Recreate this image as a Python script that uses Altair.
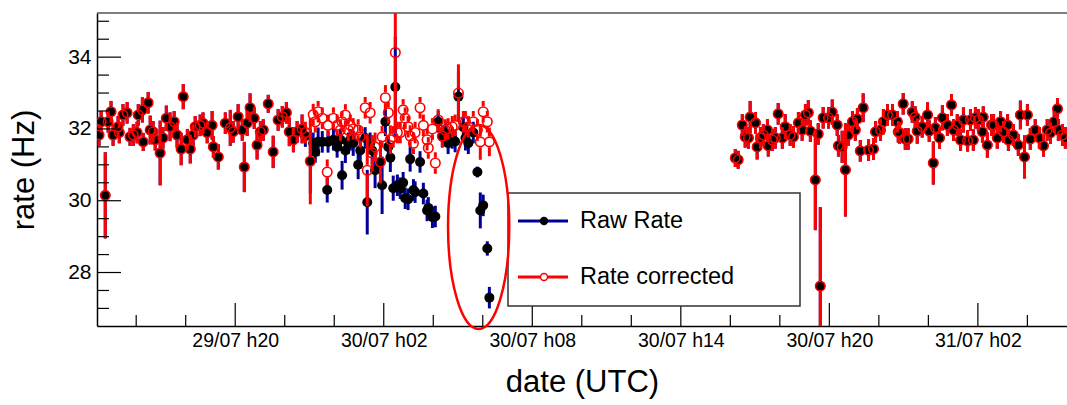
import altair as alt
import pandas as pd
from datetime import datetime, timezone

YEAR = 2018
FONT = "Liberation Sans"

# ---------------- data ----------------
# 29/07 afternoon/evening: raw and corrected rates coincide
seg1_time = ["29/07 14:30", "29/07 14:35", "29/07 14:45", "29/07 14:52", "29/07 14:59", "29/07 15:04",
             "29/07 15:16", "29/07 15:19", "29/07 15:28", "29/07 15:38", "29/07 15:45", "29/07 15:53",
             "29/07 16:02", "29/07 16:05", "29/07 16:15", "29/07 16:17", "29/07 16:29", "29/07 16:34",
             "29/07 16:41", "29/07 16:46", "29/07 16:58", "29/07 17:05", "29/07 17:13", "29/07 17:22",
             "29/07 17:32", "29/07 17:39", "29/07 17:49", "29/07 17:54", "29/07 18:04", "29/07 18:11",
             "29/07 18:18", "29/07 18:23", "29/07 18:35", "29/07 18:42", "29/07 18:52", "29/07 19:04",
             "29/07 19:07", "29/07 19:19", "29/07 19:36", "29/07 19:48", "29/07 19:55", "29/07 20:07",
             "29/07 20:17", "29/07 20:22", "29/07 20:29", "29/07 20:36", "29/07 20:46", "29/07 20:53",
             "29/07 21:01", "29/07 21:08", "29/07 21:20", "29/07 21:32", "29/07 21:44", "29/07 21:54",
             "29/07 22:04", "29/07 22:11", "29/07 22:21", "29/07 22:30", "29/07 22:42"]
seg1_rate = [31.83, 32.20, 30.15, 32.20, 32.48, 31.83, 32.06, 31.90, 32.39, 32.45, 31.78, 31.83,
             31.90, 32.39, 32.53, 31.64, 32.73, 31.97, 31.92, 31.70, 31.33, 31.75, 32.30, 32.06,
             32.20, 31.83, 31.44, 32.90, 31.70, 31.44, 31.83, 32.06, 32.10, 32.16, 31.90, 32.10,
             31.50, 31.22, 32.16, 32.03, 31.92, 32.34, 31.97, 30.94, 32.16, 32.59, 32.30, 31.55,
             31.92, 31.97, 32.70, 31.36, 32.25, 32.34, 32.45, 31.92, 31.70, 31.92, 32.00]
seg1_err = [0.30, 0.30, 1.20, 0.30, 0.30, 0.30, 0.30, 0.30, 0.30, 0.30, 0.25, 0.30,
            0.30, 0.30, 0.35, 0.25, 0.30, 0.40, 0.30, 0.30, 0.90, 0.30, 0.35, 0.40,
            0.30, 0.35, 0.45, 0.35, 0.30, 0.40, 0.30, 0.30, 0.30, 0.30, 0.30, 0.40,
            0.30, 0.35, 0.30, 0.50, 0.30, 0.35, 0.30, 0.70, 0.35, 0.40, 0.30, 0.40,
            0.30, 0.30, 0.25, 0.45, 0.30, 0.30, 0.30, 0.40, 0.35, 0.30, 0.40]

# 29/07 22:50 - 30/07 06:16: raw and corrected rates differ
div_time = ["29/07 22:50", "29/07 23:02", "29/07 23:09", "29/07 23:14", "29/07 23:21", "29/07 23:31",
            "29/07 23:43", "29/07 23:45", "29/07 23:58", "30/07 00:07", "30/07 00:15", "30/07 00:19",
            "30/07 00:27", "30/07 00:34", "30/07 00:39", "30/07 00:46", "30/07 00:58", "30/07 01:03",
            "30/07 01:15", "30/07 01:20", "30/07 01:27", "30/07 01:32", "30/07 01:39", "30/07 01:52",
            "30/07 01:56", "30/07 02:04", "30/07 02:11", "30/07 02:16", "30/07 02:23", "30/07 02:28",
            "30/07 02:33", "30/07 02:40", "30/07 02:47", "30/07 02:52", "30/07 02:59", "30/07 03:04",
            "30/07 03:12", "30/07 03:16", "30/07 03:28", "30/07 03:36", "30/07 03:45", "30/07 03:48",
            "30/07 03:58", "30/07 04:05", "30/07 04:12", "30/07 04:22", "30/07 04:29", "30/07 04:36",
            "30/07 04:46", "30/07 04:53", "30/07 05:01", "30/07 05:13", "30/07 05:18", "30/07 05:25",
            "30/07 05:37", "30/07 05:47", "30/07 05:54", "30/07 06:01", "30/07 06:11", "30/07 06:16"]
div_raw = [31.80, 31.10, 31.60, 31.36, 31.64, 31.64, 30.30, 31.64, 31.70, 31.50, 31.70, 30.71,
           31.40, 31.60, 31.70, 31.60, 31.00, 31.40, 31.75, 29.96, 31.60, 31.40, 30.85, 31.08,
           30.43, 32.20, 31.50, 31.20, 30.35, 33.17, 30.43, 30.35, 30.50, 30.07, 30.04, 31.16,
           30.30, 30.24, 31.08, 30.20, 29.73, 29.80, 29.54, 29.56, 32.20, 31.78, 31.90, 31.60,
           31.75, 31.65, 32.90, 32.05, 31.75, 31.60, 31.90, 30.80, 29.73, 29.87, 28.67, 27.30]
div_raw_err = [0.30, 0.90, 0.30, 0.30, 0.40, 0.30, 0.35, 0.30, 0.30, 0.30, 0.30, 0.40,
               0.35, 0.30, 0.30, 0.35, 0.40, 0.35, 0.30, 0.90, 0.30, 0.40, 0.50, 0.50,
               0.80, 0.40, 0.30, 0.40, 0.35, 1.40, 0.30, 0.30, 0.30, 0.30, 0.30, 0.35,
               0.30, 0.30, 0.30, 0.30, 0.30, 0.30, 0.30, 0.30, 0.30, 0.30, 0.30, 0.30,
               0.30, 0.30, 0.70, 0.30, 0.35, 0.30, 0.30, 0.15, 0.50, 0.30, 0.20, 0.30]
div_corr = [31.90, 31.10, 32.40, 32.20, 32.48, 32.30, 30.80, 32.10, 32.30, 32.10, 31.97, 32.20,
            32.39, 31.97, 32.10, 32.00, 31.97, 31.78, 32.59, 30.85, 32.45, 31.33, 31.50, 31.08,
            31.78, 32.87, 32.45, 31.70, 31.78, 34.13, 31.90, 31.90, 32.53, 32.30, 32.06, 31.80,
            31.60, 31.90, 32.59, 32.10, 31.70, 31.47, 32.00, 31.05, 32.25, 31.80, 31.97, 32.00,
            32.06, 32.10, 33.00, 32.20, 32.20, 32.06, 32.20, 31.97, 31.64, 32.48, 32.20, 31.64]
div_corr_err = [0.30, 1.20, 0.30, 0.30, 0.30, 0.30, 0.35, 0.30, 0.30, 0.30, 0.30, 0.30,
                0.30, 0.30, 0.30, 0.30, 0.30, 0.30, 0.30, 1.00, 0.30, 0.50, 0.40, 0.60,
                0.30, 0.35, 0.30, 0.40, 0.30, 2.10, 0.30, 0.30, 0.30, 0.30, 0.30, 0.30,
                0.30, 0.30, 0.30, 0.30, 0.30, 0.30, 0.30, 0.30, 0.30, 0.30, 0.30, 0.30,
                0.30, 0.30, 0.80, 0.30, 0.30, 0.30, 0.30, 0.30, 0.50, 0.30, 0.30, 0.40]

# 30/07 16:12 onwards: raw and corrected rates coincide again
seg2_time = ["30/07 16:12", "30/07 16:19", "30/07 16:29", "30/07 16:36", "30/07 16:44", "30/07 16:48",
             "30/07 17:01", "30/07 17:05", "30/07 17:13", "30/07 17:20", "30/07 17:30", "30/07 17:32",
             "30/07 17:42", "30/07 17:49", "30/07 17:56", "30/07 18:06", "30/07 18:13", "30/07 18:25",
             "30/07 18:33", "30/07 18:45", "30/07 18:54", "30/07 19:02", "30/07 19:09", "30/07 19:14",
             "30/07 19:26", "30/07 19:33", "30/07 19:38", "30/07 19:45", "30/07 19:58", "30/07 20:07",
             "30/07 20:19", "30/07 20:22", "30/07 20:31", "30/07 20:39", "30/07 20:46", "30/07 20:56",
             "30/07 21:03", "30/07 21:08", "30/07 21:15", "30/07 21:22", "30/07 21:35", "30/07 21:47",
             "30/07 21:52", "30/07 22:04", "30/07 22:11", "30/07 22:21", "30/07 22:33", "30/07 22:45",
             "30/07 22:47", "30/07 22:50", "30/07 22:59", "30/07 23:04", "30/07 23:11", "30/07 23:21",
             "30/07 23:28", "30/07 23:33", "30/07 23:45", "30/07 23:58", "31/07 00:02", "31/07 00:12",
             "31/07 00:17", "31/07 00:27", "31/07 00:34", "31/07 00:46", "31/07 00:56", "31/07 01:01",
             "31/07 01:10", "31/07 01:18", "31/07 01:25", "31/07 01:35", "31/07 01:42", "31/07 01:49",
             "31/07 01:54", "31/07 02:01", "31/07 02:11", "31/07 02:13", "31/07 02:23", "31/07 02:33",
             "31/07 02:38", "31/07 02:47", "31/07 02:55", "31/07 03:02", "31/07 03:12", "31/07 03:14",
             "31/07 03:26", "31/07 03:38", "31/07 03:43", "31/07 03:53", "31/07 04:00", "31/07 04:07",
             "31/07 04:19", "31/07 04:29", "31/07 04:39", "31/07 04:48", "31/07 04:56", "31/07 05:05",
             "31/07 05:13", "31/07 05:15", "31/07 05:25", "31/07 05:32"]
seg2_rate = [31.19, 31.14, 32.11, 31.78, 31.75, 32.33, 32.17, 31.50, 31.75, 31.83, 31.97, 31.53,
             31.69, 31.75, 32.42, 31.75, 32.06, 31.83, 31.78, 32.17, 31.97, 32.39, 32.45, 31.94,
             30.58, 31.86, 27.62, 32.31, 32.31, 32.47, 32.11, 31.53, 31.50, 30.86, 31.83, 32.20,
             31.97, 32.28, 31.39, 32.59, 31.41, 31.44, 31.92, 31.97, 32.20, 32.39, 32.39, 32.20,
             31.92, 31.89, 32.70, 31.72, 31.72, 32.47, 32.33, 31.94, 32.06, 32.39, 31.94, 31.05,
             32.03, 31.75, 32.31, 32.11, 32.67, 31.97, 32.11, 31.69, 32.25, 31.67, 32.25, 31.69,
             32.31, 32.25, 31.92, 32.33, 31.55, 32.11, 32.11, 31.75, 32.20, 31.92, 32.11, 31.69,
             31.83, 31.55, 32.39, 31.22, 32.39, 31.72, 31.97, 31.75, 31.53, 31.97, 31.89, 32.20,
             32.56, 31.97, 31.83, 31.75]
seg2_err = [0.25, 0.25, 0.30, 0.30, 0.30, 0.45, 0.30, 0.35, 0.30, 0.30, 0.30, 0.30,
            0.30, 0.30, 0.30, 0.30, 0.35, 0.30, 0.30, 0.30, 0.30, 0.30, 0.35, 0.30,
            1.40, 0.30, 2.20, 0.30, 0.30, 0.35, 0.30, 0.30, 0.45, 1.30, 0.30, 0.30,
            0.30, 0.30, 0.30, 0.40, 0.30, 0.30, 0.30, 0.30, 0.35, 0.30, 0.30, 0.30,
            0.30, 0.30, 0.30, 0.30, 0.30, 0.30, 0.30, 0.35, 0.30, 0.35, 0.30, 0.60,
            0.30, 0.30, 0.35, 0.30, 0.30, 0.30, 0.30, 0.30, 0.35, 0.30, 0.30, 0.30,
            0.30, 0.30, 0.30, 0.30, 0.35, 0.30, 0.30, 0.30, 0.30, 0.30, 0.30, 0.30,
            0.30, 0.30, 0.40, 0.60, 0.30, 0.30, 0.30, 0.30, 0.30, 0.30, 0.30, 0.30,
            0.30, 0.30, 0.30, 0.30]

# axis ticks and ranges
x_range = ["29/07 14:25", "31/07 05:36"]
x_major = ["29/07 20:00", "30/07 02:00", "30/07 08:00", "30/07 14:00", "30/07 20:00", "31/07 02:00"]
x_minor = ["29/07 16:00", "29/07 18:00", "29/07 22:00", "30/07 00:00", "30/07 04:00", "30/07 06:00",
           "30/07 10:00", "30/07 12:00", "30/07 16:00", "30/07 18:00", "30/07 22:00", "31/07 00:00",
           "31/07 04:00"]
y_range = [26.51, 35.23]
y_major = [28, 30, 32, 34]
y_minor = [27, 27.5, 28.5, 29, 29.5, 30.5, 31, 31.5, 32.5, 33, 33.5, 34.5, 35]

legend_labels = ["Raw Rate", "Rate corrected"]
ellipse_time = ["30/07 05:50"]
ellipse_rate = [29.27]


# ---------------- helpers ----------------
def to_dt(s):
    return datetime.strptime(f"{YEAR} {s}", "%Y %d/%m %H:%M").replace(tzinfo=timezone.utc)


def iso(s):
    return to_dt(s).strftime("%Y-%m-%dT%H:%M:00Z")


def ms(s):
    return int(to_dt(s).timestamp() * 1000)


rows = []
for t, v, e in zip(seg1_time, seg1_rate, seg1_err):
    rows.append((iso(t), v, e, v, e))
for t, r, re, c, ce in zip(div_time, div_raw, div_raw_err, div_corr, div_corr_err):
    rows.append((iso(t), r, re, c, ce))
for t, v, e in zip(seg2_time, seg2_rate, seg2_err):
    rows.append((iso(t), v, e, v, e))
df = pd.DataFrame(rows, columns=["t", "raw", "raw_err", "corr", "corr_err"])
df["raw_lo"] = df["raw"] - df["raw_err"]
df["raw_hi"] = df["raw"] + df["raw_err"]
df["corr_lo"] = df["corr"] - df["corr_err"]
df["corr_hi"] = df["corr"] + df["corr_err"]

W, H = 970, 313
BLUE = "#000099"
RED = "#ff0000"
GAP = 0.15  # marker radius in rate units: ROOT does not draw the bar inside the open marker
BAR_W = 3
DOT = 100

xscale = alt.Scale(type="utc", domain=[ms(x_range[0]), ms(x_range[1])], nice=False)
yscale = alt.Scale(domain=y_range, nice=False, zero=False)

xaxis = alt.Axis(values=[ms(s) for s in x_major],
                 labelExpr="utcFormat(datum.value, '%d/%m h%H')",
                 ticks=False, grid=False, domainColor="black", domainWidth=1.5,
                 labelFont=FONT, labelFontSize=19.5, labelColor="black", labelPadding=5,
                 labelFlush=False, labelOverlap=False, labelBound=False,
                 titleFont=FONT, titleFontSize=31, titleFontWeight="normal", titleColor="black",
                 titleX=485, titleY=65, titleBaseline="alphabetic", titleAlign="center")
yaxis = alt.Axis(values=y_major, format="d", ticks=False, grid=False,
                 domainColor="black", domainWidth=1.5,
                 labelFont=FONT, labelFontSize=21, labelColor="black", labelPadding=6,
                 titleFont=FONT, titleFontSize=31, titleFontWeight="normal", titleColor="black",
                 titleAngle=-90, titleX=-64, titleY=H / 2, titleBaseline="alphabetic",
                 titleAlign="center")


def X(field="t"):
    return alt.X(f"{field}:T", scale=xscale, axis=xaxis, title="date (UTC)")


def Y(field):
    return alt.Y(f"{field}:Q", scale=yscale, axis=yaxis, title="rate (Hz)")


base = alt.Chart(df)

blue_bars = base.mark_rule(color=BLUE, strokeWidth=BAR_W, clip=True).encode(
    x=X(), y=Y("raw_lo"), y2="raw_hi")
black_dots = base.mark_point(shape="circle", filled=True, color="black", size=DOT,
                             opacity=1, clip=True).encode(x=X(), y=Y("raw"))
red_low = base.transform_calculate(
    a="datum.corr_lo", b=f"max(datum.corr_lo, datum.corr - {GAP})"
).mark_rule(color=RED, strokeWidth=BAR_W, clip=True).encode(x=X(), y=Y("a"), y2="b:Q")
red_high = base.transform_calculate(
    a=f"min(datum.corr_hi, datum.corr + {GAP})", b="datum.corr_hi"
).mark_rule(color=RED, strokeWidth=BAR_W, clip=True).encode(x=X(), y=Y("a"), y2="b:Q")
red_circles = base.mark_point(shape="circle", filled=False, color=RED, strokeWidth=1.6,
                              size=90, opacity=1, clip=True).encode(x=X(), y=Y("corr"))

# inward ticks (ROOT style)
xmaj_df = pd.DataFrame({"t": [iso(s) for s in x_major]})
xmin_df = pd.DataFrame({"t": [iso(s) for s in x_minor]})
ymaj_df = pd.DataFrame({"v": y_major})
ymin_df = pd.DataFrame({"v": y_minor})
tick_kw = dict(color="black", strokeWidth=1.2)
xmaj_ticks = alt.Chart(xmaj_df).mark_rule(**tick_kw).encode(x=X(), y=alt.value(H), y2=alt.value(H - 23))
xmin_ticks = alt.Chart(xmin_df).mark_rule(**tick_kw).encode(x=X(), y=alt.value(H), y2=alt.value(H - 11))
ymaj_ticks = alt.Chart(ymaj_df).mark_rule(**tick_kw).encode(y=Y("v"), x=alt.value(0), x2=alt.value(24))
ymin_ticks = alt.Chart(ymin_df).mark_rule(**tick_kw).encode(y=Y("v"), x=alt.value(0), x2=alt.value(12))

one = pd.DataFrame({"k": [0]})
top_line = alt.Chart(one).mark_rule(color="#555555", strokeWidth=1.5).encode(
    x=alt.value(0), x2=alt.value(W), y=alt.value(0))

# red ellipse annotation
ell_df = pd.DataFrame({"t": [iso(s) for s in ellipse_time], "rate": ellipse_rate})
ELLIPSE = "M 0 -1 A 0.3 1 0 1 1 0 1 A 0.3 1 0 1 1 0 -1 Z"
ellipse = alt.Chart(ell_df).mark_point(shape=ELLIPSE, size=204 * 204, filled=False,
                                       stroke=RED, strokeWidth=2.5, opacity=1).encode(
    x=X(), y=Y("rate"))

# legend box
LX0, LX1, LY0, LY1 = 411, 703, 180, 293
ROW1, ROW2 = 208, 264
SX0, SX1, SXC, TX = 421, 471, 447, 483
leg_box = alt.Chart(one).mark_rect(fill="white", stroke="#333333", strokeWidth=1.5).encode(
    x=alt.value(LX0), x2=alt.value(LX1), y=alt.value(LY0), y2=alt.value(LY1))
leg_line1 = alt.Chart(one).mark_rule(color=BLUE, strokeWidth=BAR_W).encode(
    x=alt.value(SX0), x2=alt.value(SX1), y=alt.value(ROW1))
leg_dot1 = alt.Chart(one).mark_point(shape="circle", filled=True, color="black", size=70, opacity=1).encode(
    x=alt.value(SXC), y=alt.value(ROW1))
leg_line2 = alt.Chart(one).mark_rule(color=RED, strokeWidth=BAR_W).encode(
    x=alt.value(SX0), x2=alt.value(SX1), y=alt.value(ROW2))
leg_dot2 = alt.Chart(one).mark_point(shape="circle", filled=True, fill="white", stroke=RED,
                                     strokeWidth=1.5, size=50, opacity=1).encode(
    x=alt.value(SXC), y=alt.value(ROW2))
leg_text1 = alt.Chart(pd.DataFrame({"label": [legend_labels[0]]})).mark_text(
    font=FONT, fontSize=23.5, align="left", baseline="middle", color="black").encode(
    x=alt.value(TX), y=alt.value(ROW1), text="label:N")
leg_text2 = alt.Chart(pd.DataFrame({"label": [legend_labels[1]]})).mark_text(
    font=FONT, fontSize=23.5, align="left", baseline="middle", color="black").encode(
    x=alt.value(TX), y=alt.value(ROW2), text="label:N")

chart = alt.layer(
    blue_bars, black_dots, red_low, red_high, red_circles,
    xmaj_ticks, xmin_ticks, ymaj_ticks, ymin_ticks, top_line,
    leg_box, leg_line1, leg_dot1, leg_line2, leg_dot2, leg_text1, leg_text2,
    ellipse,
).properties(
    width=W, height=H,
    padding={"left": 97, "top": 13, "right": 0, "bottom": 79},
    autosize=alt.AutoSizeParams(type="none"),
    background="white",
).configure_view(stroke=None)

chart.save("out.html", embed_options={"renderer": "svg", "actions": False})
